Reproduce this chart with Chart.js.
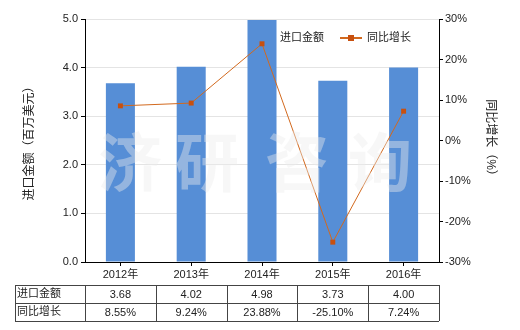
<!DOCTYPE html>
<html>
<head>
<meta charset="utf-8">
<script src="https://cdn.jsdelivr.net/npm/chart.js@4/dist/chart.umd.min.js"></script>
<style>
html,body{margin:0;padding:0;background:#fff;}
#wrap{width:520px;height:330px;position:relative;}
</style>
</head>
<body>
<div id="wrap"><canvas id="c" width="520" height="330"></canvas></div>
<script>
const categories = ['2012年', '2013年', '2014年', '2015年', '2016年'];
const importValues = [3.68, 4.02, 4.98, 3.73, 4.00];
const growthValues = [8.55, 9.24, 23.88, -25.10, 7.24];
const importLabels = ['3.68', '4.02', '4.98', '3.73', '4.00'];
const growthLabels = ['8.55%', '9.24%', '23.88%', '-25.10%', '7.24%'];
const seriesNames = ['进口金额', '同比增长'];
const leftTicks = [0, 1, 2, 3, 4, 5];
const rightTicks = [-30, -20, -10, 0, 10, 20, 30];

const FONT = "'Liberation Sans', 'Noto Sans CJK SC', sans-serif";
const BAR = '#568ed6';
const LINE = '#d2691e';
const MARK = '#c8500f';

const watermark = {
  id: 'watermark',
  afterDatasetsDraw(chart) {
    const ctx = chart.ctx;
    ctx.save();
    ctx.font = "bold 64px 'Noto Sans CJK SC'";
    ctx.fillStyle = 'rgba(235,235,235,0.42)';
    ctx.textAlign = 'center';
    ctx.textBaseline = 'middle';
    const chars = ['济', '研', '咨', '询'];
    const xs = [130, 207, 297, 380];
    chars.forEach((ch, i) => ctx.fillText(ch, xs[i], 162));
    ctx.restore();
  }
};

const legendAndTable = {
  id: 'legendAndTable',
  afterDraw(chart) {
    const ctx = chart.ctx;
    const x = chart.scales.x;
    ctx.save();
    // legend
    ctx.font = "11px " + FONT;
    ctx.textBaseline = 'middle';
    ctx.textAlign = 'left';
    ctx.fillStyle = BAR;
    ctx.fillRect(265, 32, 11, 11);
    ctx.fillStyle = '#222';
    ctx.fillText(seriesNames[0], 280, 38);
    ctx.strokeStyle = LINE;
    ctx.lineWidth = 2;
    ctx.beginPath(); ctx.moveTo(340, 38); ctx.lineTo(362, 38); ctx.stroke();
    ctx.fillStyle = MARK;
    ctx.fillRect(348, 35, 6, 6);
    ctx.fillStyle = '#222';
    ctx.fillText(seriesNames[1], 367, 38);

    // table
    const top = 285, rowH = 18, left = 15;
    const step = x.getPixelForValue(1) - x.getPixelForValue(0);
    const bounds = [left, chart.chartArea.left];
    for (let i = 0; i < categories.length; i++) bounds.push(x.getPixelForValue(i) + step / 2);
    const right = bounds[bounds.length - 1];
    ctx.strokeStyle = '#444';
    ctx.lineWidth = 1;
    ctx.beginPath();
    for (let r = 0; r <= 2; r++) {
      const y = Math.round(top + r * rowH) + 0.5;
      ctx.moveTo(left, y); ctx.lineTo(right, y);
    }
    bounds.forEach(b => {
      const bx = Math.round(b) + 0.5;
      ctx.moveTo(bx, top); ctx.lineTo(bx, top + 2 * rowH);
    });
    ctx.stroke();
    ctx.fillStyle = '#222';
    ctx.textAlign = 'left';
    ctx.fillText(seriesNames[0], left + 2, top + rowH / 2);
    ctx.fillText(seriesNames[1], left + 2, top + rowH * 1.5);
    ctx.textAlign = 'center';
    for (let i = 0; i < categories.length; i++) {
      const cx = x.getPixelForValue(i);
      ctx.fillText(importLabels[i], cx, top + rowH / 2 + 1);
      ctx.fillText(growthLabels[i], cx, top + rowH * 1.5 + 1);
    }
    ctx.restore();
  }
};

new Chart(document.getElementById('c'), {
  data: {
    labels: categories,
    datasets: [
      {
        type: 'line',
        label: seriesNames[1],
        data: growthValues,
        yAxisID: 'y1',
        borderColor: LINE,
        borderWidth: 1,
        pointStyle: 'rect',
        pointRadius: 3.5,
        pointBackgroundColor: MARK,
        pointBorderColor: MARK,
        pointBorderWidth: 0,
        tension: 0,
        order: 0
      },
      {
        type: 'bar',
        label: seriesNames[0],
        data: importValues,
        yAxisID: 'y',
        backgroundColor: BAR,
        borderWidth: 0,
        barPercentage: 0.41,
        categoryPercentage: 1,
        order: 1
      }
    ]
  },
  plugins: [watermark, legendAndTable],
  options: {
    responsive: false,
    animation: false,
    layout: { padding: { top: 19, left: 0, right: 0, bottom: 0 } },
    plugins: { legend: { display: false }, tooltip: { enabled: false } },
    scales: {
      x: {
        grid: { display: true, drawOnChartArea: false, offset: false, tickLength: 4, tickColor: '#000' },
        border: { color: '#000' },
        ticks: { font: { size: 11, family: FONT }, color: '#222', padding: 2, maxRotation: 0 },
        afterFit(s) { s.height = 68; }
      },
      y: {
        position: 'left',
        min: 0, max: 5,
        afterBuildTicks(s) { s.ticks = leftTicks.map(v => ({ value: v })); },
        ticks: { font: { size: 11, family: FONT }, color: '#222', padding: 3,
          callback: v => v.toFixed(1) },
        grid: { color: '#e4e4e4', tickColor: '#000', tickLength: 4 },
        border: { color: '#000' },
        title: { display: true, text: '进口金额（百万美元）', font: { size: 12, family: FONT }, color: '#222', padding: { top: 22 } },
        afterFit(s) { s.width = 85; }
      },
      y1: {
        position: 'right',
        min: -30, max: 30,
        afterBuildTicks(s) { s.ticks = rightTicks.map(v => ({ value: v })); },
        ticks: { font: { size: 11, family: FONT }, color: '#222', padding: 2,
          callback: v => v + '%' },
        grid: { drawOnChartArea: false, tickColor: '#000', tickLength: 4 },
        border: { color: '#000' },
        title: { display: true, text: '同比增长（%）', font: { size: 12, family: FONT }, color: '#222', padding: { top: 22 } },
        afterFit(s) { s.width = 81; }
      }
    }
  }
});
</script>
</body>
</html>
